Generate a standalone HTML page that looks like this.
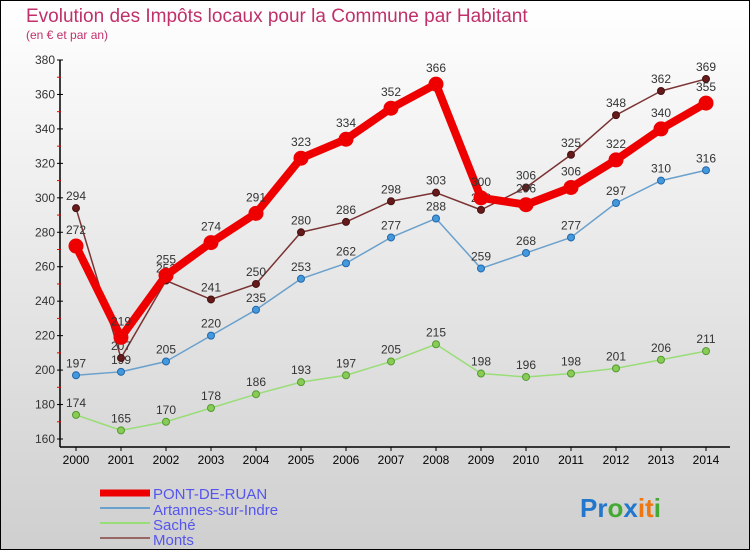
<!DOCTYPE html>
<html><head><meta charset="utf-8"><style>
body{margin:0;}
#c{width:750px;height:550px;position:relative;font-family:"Liberation Sans",sans-serif;}
</style></head><body>
<div id="c">
<svg id="s" width="750" height="550" xmlns="http://www.w3.org/2000/svg">
<defs><linearGradient id="bg" x1="0" y1="0" x2="0" y2="1"><stop offset="0" stop-color="#ffffff"/><stop offset="1" stop-color="#cfcfcf"/></linearGradient></defs>
<rect x="0.5" y="0.5" width="749" height="549" fill="url(#bg)" stroke="#000"/>
<text x="26" y="22" font-size="19" fill="#c0306a">Evolution des Impôts locaux pour la Commune par Habitant</text>
<text x="26" y="39" font-size="12" fill="#c0306a">(en € et par an)</text>
<g id="g"></g>
<g>
<line x1="100" y1="493" x2="150" y2="493" stroke="#ee0000" stroke-width="7"/>
<text x="153" y="499" font-size="15" fill="#5555ee">PONT-DE-RUAN</text>
<line x1="100" y1="508" x2="150" y2="508" stroke="#6aa0cc" stroke-width="2"/>
<text x="153" y="515" font-size="15" fill="#5555ee">Artannes-sur-Indre</text>
<line x1="100" y1="523" x2="150" y2="523" stroke="#99dd77" stroke-width="2"/>
<text x="153" y="530" font-size="15" fill="#5555ee">Saché</text>
<line x1="100" y1="538" x2="150" y2="538" stroke="#996666" stroke-width="2"/>
<text x="153" y="545" font-size="15" fill="#5555ee">Monts</text>
</g>
<text x="580" y="517" font-size="26" font-weight="bold"><tspan fill="#2277cc">Pr</tspan><tspan fill="#44aa33">o</tspan><tspan fill="#2277cc">x</tspan><tspan fill="#ee7711">it</tspan><tspan fill="#44aa33">i</tspan></text>
</svg>
</div>
<script>
const years=[2000,2001,2002,2003,2004,2005,2006,2007,2008,2009,2010,2011,2012,2013,2014];
const pont=[272,219,255,274,291,323,334,352,366,300,296,306,322,340,355];
const artannes=[197,199,205,220,235,253,262,277,288,259,268,277,297,310,316];
const sache=[174,165,170,178,186,193,197,205,215,198,196,198,201,206,211];
const monts=[294,207,252,241,250,280,286,298,303,293,306,325,348,362,369];
const yTicks=[160,180,200,220,240,260,280,300,320,340,360,380];
const NS="http://www.w3.org/2000/svg";
const g=document.getElementById('g');
const X=i=>76+i*45;
const Y=v=>439-(v-160)*(379/220);
function el(t,a,p){const e=document.createElementNS(NS,t);for(const k in a)e.setAttribute(k,a[k]);(p||g).appendChild(e);return e;}
const ax=el('line',{x1:60,y1:60,x2:60,y2:447,stroke:'#000','stroke-width':1.5});


const xa=el('line',{x1:60,y1:447,x2:730,y2:447,stroke:'#000','stroke-width':1.5});


yTicks.forEach((v,i)=>{
 el('line',{x1:57,y1:Y(v),x2:63,y2:Y(v),stroke:'#000'});
 if(i<yTicks.length-1){el('line',{x1:57,y1:Y(v+10),x2:61,y2:Y(v+10),stroke:'#ee0000'});}
 const t=el('text',{x:55,y:Y(v)+4,'text-anchor':'end','font-size':12,fill:'#333'});t.textContent=v;
 
 
});
years.forEach((yr,i)=>{
 el('line',{x1:X(i),y1:447,x2:X(i),y2:451,stroke:'#000'});
 const t=el('text',{x:X(i),y:464,'text-anchor':'middle','font-size':12,fill:'#000'});t.textContent=yr;
 
 
});
function series(data,color,w,r,dot,dotStroke,name,lblDy){
 const grp=el('g',{});
 
 
 const pl=el('polyline',{points:data.map((v,i)=>X(i)+','+Y(v)).join(' '),fill:'none',stroke:color,'stroke-width':w,'stroke-linejoin':'round'},grp);
 
 
 data.forEach((v,i)=>{
  const c=el('circle',{cx:X(i),cy:Y(v),r:r,fill:dot,stroke:dotStroke,'stroke-width':1},grp);
  
  
  const t=el('text',{x:X(i),y:Y(v)+lblDy,'text-anchor':'middle','font-size':12,fill:'#333'},grp);t.textContent=v;
  
  
 });
}
series(sache,'#99dd77',1.5,3.5,'#88cc55','#559933','sache',-8);
series(artannes,'#6aa0cc',1.5,3.5,'#4499dd','#2266aa','artannes',-8);
series(monts,'#7a3333',1.5,3.5,'#661a1a','#441111','monts',-8);
series(pont,'#ee0000',8,7,'#ee0000','#ee0000','pont-de-ruan',-12);
</script>
</body></html>
